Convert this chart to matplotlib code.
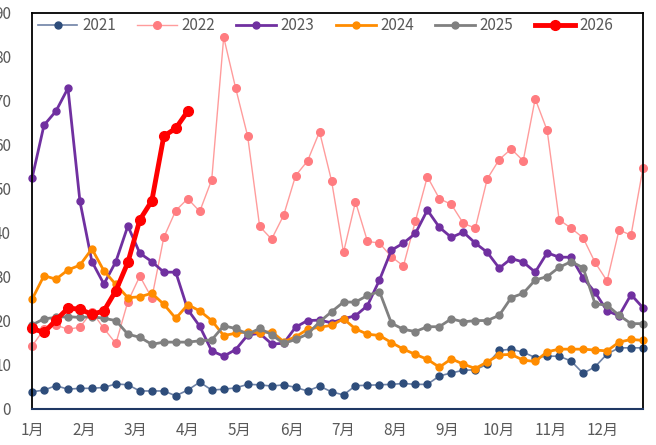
import numpy as np
import matplotlib
matplotlib.use('Agg')
import matplotlib.pyplot as plt

plt.rcParams['font.family'] = ['Noto Sans CJK SC', 'DejaVu Sans']

# 周度数据
months = ['1月', '2月', '3月', '4月', '5月', '6月', '7月', '8月', '9月', '10月', '11月', '12月']

y2021 = [3.9, 4.3, 5.3, 4.5, 4.7, 4.7, 4.9, 5.7, 5.5, 4.1, 4.1, 4.1, 3.0, 4.3, 6.1, 4.3, 4.5, 4.8,
         5.6, 5.5, 5.2, 5.5, 4.9, 4.1, 5.2, 3.9, 3.2, 5.3, 5.4, 5.5, 5.6, 5.8, 5.6, 5.6, 7.5, 8.2,
         8.8, 8.9, 10.2, 13.3, 13.6, 12.9, 11.7, 12.0, 12.0, 10.9, 8.1, 9.6, 12.5, 13.9, 13.9, 13.9]
y2022 = [14.3, 18.1, 19.1, 18.1, 18.6, 22.1, 18.3, 14.9, 24.4, 30.2, 25.2, 39.0, 45.1, 47.8, 44.9,
         52.1, 84.5, 72.9, 62.0, 41.5, 38.6, 44.0, 53.0, 56.4, 63.0, 51.9, 35.6, 47.1, 38.1, 37.7,
         34.6, 32.5, 42.7, 52.8, 47.8, 46.5, 42.2, 41.1, 52.3, 56.7, 59.1, 56.4, 70.5, 63.3, 43.0,
         41.1, 38.9, 33.3, 29.1, 40.7, 39.5, 54.8]
y2023 = [52.4, 64.5, 67.7, 72.9, 47.2, 33.5, 28.4, 33.5, 41.6, 35.4, 33.5, 31.1, 31.1, 22.6, 18.8,
         13.2, 12.0, 13.5, 16.8, 17.2, 14.8, 14.9, 18.6, 20.1, 20.2, 19.6, 20.5, 21.2, 23.5, 29.3,
         36.1, 37.7, 39.9, 45.2, 41.3, 39.0, 40.2, 37.7, 35.6, 32.0, 34.2, 33.4, 31.1, 35.5, 34.5,
         34.5, 29.8, 26.5, 22.3, 21.2, 26.0, 23.0]
y2024 = [24.9, 30.3, 29.5, 31.6, 32.7, 36.4, 31.4, 28.3, 25.3, 25.5, 26.3, 23.8, 20.6, 23.7, 22.3,
         20.1, 16.7, 17.2, 17.6, 17.3, 17.6, 15.3, 16.4, 18.1, 18.6, 19.0, 20.5, 18.2, 17.0, 16.7,
         15.1, 13.6, 12.4, 11.3, 9.5, 11.4, 10.2, 9.2, 10.7, 12.3, 12.4, 11.1, 10.8, 13.0, 13.6,
         13.6, 13.6, 13.4, 13.2, 15.2, 15.8, 15.6]
y2025 = [19.1, 20.5, 20.8, 21.0, 20.8, 21.0, 20.6, 20.1, 17.0, 16.3, 14.7, 15.2, 15.2, 15.2, 15.5,
         15.7, 18.9, 18.3, 17.0, 18.3, 16.9, 14.9, 15.8, 17.0, 19.8, 22.1, 24.3, 24.3, 25.8, 26.7,
         19.5, 18.1, 17.6, 18.7, 18.7, 20.5, 19.8, 20.1, 20.1, 21.3, 25.3, 26.3, 29.3, 30.1, 32.2,
         33.5, 32.1, 23.9, 23.6, 21.3, 19.4, 19.4]
y2026 = [18.3, 17.4, 20.2, 22.9, 22.7, 21.5, 22.3, 26.9, 33.3, 43.0, 47.3, 62.0, 63.8, 67.7]

fig = plt.figure(figsize=(6.56, 4.45), dpi=100)
ax = fig.add_axes([0.0488, 0.0809, 0.9314, 0.8899])

styles = [
    ('2021', y2021, '#6E82A6', '#2E4D7B', 1.2, 5),
    ('2022', y2022, '#FF9C9C', '#FF7C80', 1.0, 5.5),
    ('2023', y2023, '#7030A0', '#7030A0', 2.0, 5),
    ('2024', y2024, '#FF8C00', '#FF8C00', 2.0, 5),
    ('2025', y2025, '#808080', '#808080', 2.0, 5),
    ('2026', y2026, '#FF0000', '#FF0000', 3.5, 7),
]
for name, vals, lc, mc, lw, ms in styles:
    x = np.arange(len(vals))
    ax.plot(x, vals, color=lc, lw=lw, marker='o', ms=ms, mfc=mc, mec=mc,
            label=name, clip_on=False)

ax.set_xlim(0, 51)
ax.set_ylim(0, 90)
ax.set_yticks(range(0, 91, 10))
ax.set_xticks([i * 52 / 12 for i in range(12)])
ax.set_xticklabels(months)
ax.tick_params(axis='y', length=0, pad=15, labelsize=11, colors='#595959')
ax.tick_params(axis='x', length=0, pad=9, labelsize=11, colors='#595959')

for s in ['left', 'right', 'top']:
    ax.spines[s].set_color('black')
    ax.spines[s].set_linewidth(1.3)
ax.spines['bottom'].set_color('#1F3864')
ax.spines['bottom'].set_linewidth(1.5)

leg = ax.legend(loc='upper center', bbox_to_anchor=(0.48, 1.012), ncol=6, frameon=False,
                fontsize=11, handlelength=2.6, handletextpad=0.3, columnspacing=1.4,
                borderaxespad=0.2)
for t in leg.get_texts():
    t.set_color('#595959')

fig.savefig('out.png', dpi=100)
